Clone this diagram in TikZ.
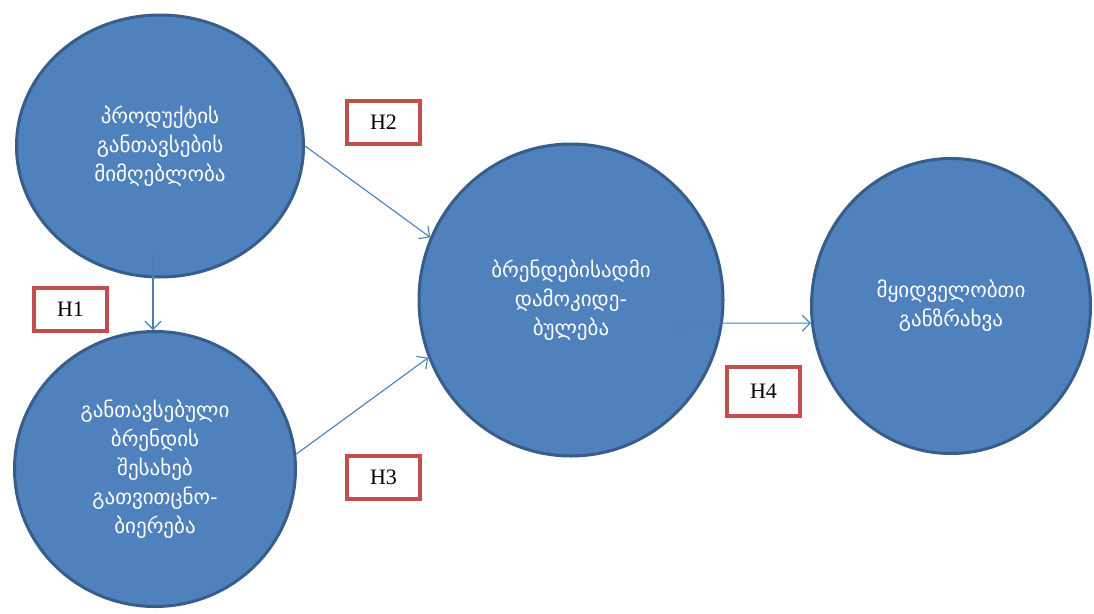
\documentclass[tikz,border=0pt]{standalone}
\usepackage{fontspec}
\newfontfamily\geofont{DejaVu Sans}
\newfontfamily\hfont{Liberation Serif}
\usetikzlibrary{shapes.geometric,arrows.meta}
\definecolor{circfill}{HTML}{4F81BD}
\definecolor{circline}{HTML}{385D8A}
\definecolor{arrowcol}{HTML}{4A7EBB}
\definecolor{boxline}{HTML}{C0504D}
\begin{document}
\begin{tikzpicture}[x=1pt,y=-1pt,
  factor/.style={shape=ellipse,draw=circline,fill=circfill,line width=3pt,
    inner sep=0pt,text=white,align=center,font=\geofont\fontsize{21}{29}\selectfont},
  hypo/.style={draw=boxline,line width=3.5pt,fill=white,minimum width=73pt,
    minimum height=43pt,font=\hfont\fontsize{22}{24}\selectfont},
  link/.style={draw=arrowcol,line width=1.1pt,-{Straight Barb[length=8pt,width=16pt]}}]
\useasboundingbox (0,0) rectangle (1094,613);

\node(ppa) at (160,146)[factor,minimum width=287pt,minimum height=262pt]
  {პროდუქტის\\განთავსების\\მიმღებლობა};
\node(bpa) at (155,469)[factor,minimum width=281pt,minimum height=275pt]
  {განთავსებული\\ბრენდის\\შესახებ\\გათვითცნო-\\ბიერება};
\node(bd) at (571,300)[factor,minimum width=304pt,minimum height=312pt]
  {ბრენდებისადმი\\დამოკიდე-\\ბულება};
\node(pi) at (951,306)[factor,minimum width=279pt,minimum height=295pt]
  {მყიდველობთი\\განზრახვა};

\node(h1) at (70.5,309.5)[hypo]              {H1};
\node(h2) at (383.5,122.5)[hypo]             {H2};
\node(h3) at (383.5,477.5)[hypo]             {H3};
\node(h4) at (763.5,391.5)[hypo,minimum height=49pt] {H4};

\coordinate(h1start) at (153,253);
\coordinate(h4start) at (680,323);

\path [link]
  (h1start)  edge    (h1start |- bpa.north)
  (ppa.east) edge    (bd.156)
  (bpa.6)    edge    (bd.202)
  (h4start)  edge    (pi.187);

\end{tikzpicture}
\end{document}
